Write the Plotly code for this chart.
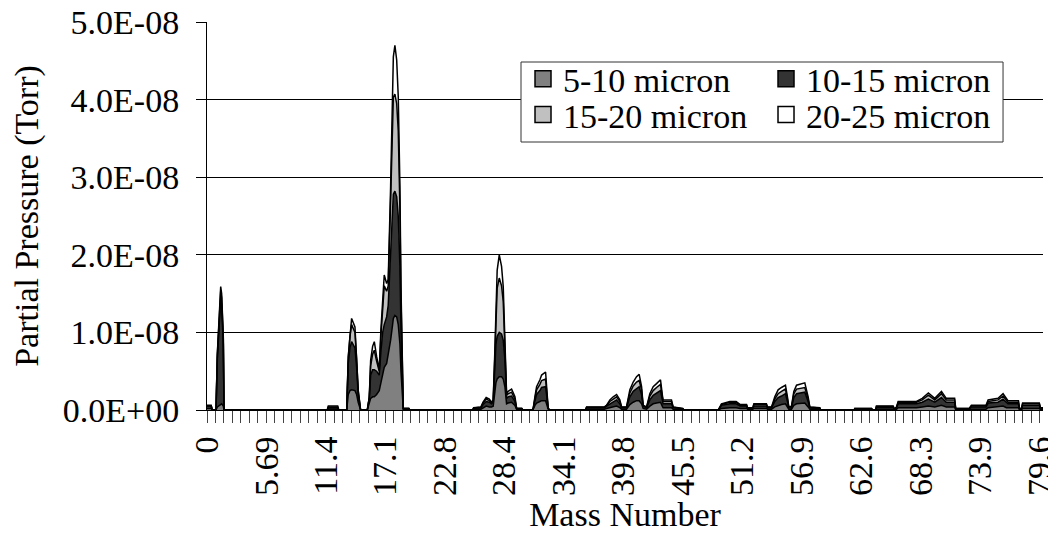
import plotly.graph_objects as go

# Mass number (amu) sample positions
mass = [0.0, 0.4, 0.5, 0.86, 0.99, 1.18, 1.31, 1.40, 1.56, 1.63,
        11.5, 11.6, 12.5, 12.6,
        13.36, 13.51, 13.67, 13.83, 14.15, 14.31, 14.46, 14.69,
        15.33, 15.52, 15.65, 15.84, 16.0, 16.22, 16.47, 16.63, 16.8, 16.95, 17.18, 17.33, 17.56, 17.75, 17.82, 17.97, 18.14, 18.29, 18.45, 18.55, 18.67, 18.77, 19.3, 19.4,
        25.4, 25.5, 26.2, 26.4, 26.7, 27.0, 27.2, 27.37, 27.53, 27.63, 27.75, 27.95, 28.17, 28.33, 28.49, 28.59, 28.65, 28.8, 29.13, 29.45, 29.61, 30.1, 30.2,
        31.1, 31.2, 31.36, 31.52, 31.84, 32.0, 32.38, 32.48, 32.63, 32.8,
        36.2, 36.3, 38.0, 38.2, 38.53, 38.85, 39.17, 39.48, 39.65, 40.12, 40.44, 40.76, 41.08, 41.33, 41.56, 41.71, 42.04, 42.35, 42.67, 42.99, 43.37, 43.57, 43.62, 44.42, 44.58, 45.5, 45.6,
        48.9, 49.04, 49.2, 50.0, 50.6, 51.0, 51.6, 51.7, 52.2, 52.3, 53.5, 53.6, 53.99, 54.3, 54.62, 54.94, 55.32, 55.51, 55.64, 55.9, 56.12, 56.38, 56.86, 57.17, 57.49, 57.65, 58.6, 58.7,
        61.9, 61.95, 63.55, 63.65, 63.95, 64.02, 65.62, 65.75, 65.94, 66.1, 67.53, 67.85, 68.4, 68.99, 69.6, 70.24, 70.7, 71.5, 71.6, 72.9, 73.1, 74.5, 74.7, 75.65, 76.13, 76.45, 76.6, 77.6, 77.7, 77.9, 78.0, 79.6, 79.7, 79.95]

# Partial pressures in units of 1E-08 Torr, one list per particle-size series
p_5_10 = [.02, .02, 0, 0, .04, .06, .08, .08, .05, 0,
          0, .01, .01, 0,
          0, .2, .25, .26, .25, .2, .1, 0,
          0, .1, .15, .17, .17, .2, .25, .35, .45, .55, .6, .7, .9, 1.1, 1.18, 1.22, 1.2, 1.1, .85, .5, .25, .01, .01, 0,
          0, .01, .01, .03, .05, .04, .04, .05, .25, .35, .4, .43, .43, .4, .3, .15, .08, .09, .1, .06, .01, .01, 0,
          0, .01, .06, .09, .11, .12, .12, .08, .01, 0,
          0, .01, .01, .02, .03, .04, .05, .03, .01, .01, .07, .1, .12, .12, .08, .02, .01, .05, .08, .09, .1, .04, .03, .03, .01, .005, 0,
          0, .01, .02, .03, .03, .02, .02, .01, .01, .02, .02, .01, .01, .04, .06, .07, .08, .04, .01, .01, .06, .08, .09, .09, .04, .01, .01, 0,
          0, .005, .005, 0, 0, .01, .01, .003, .01, .03, .03, .03, .04, .05, .04, .06, .04, .04, .005, .005, .01, .01, .03, .04, .05, .03, .03, .03, .005, .005, .02, .02, .005, .005]

p_10_15 = [.03, .03, 0, 0, .62, .98, 1.35, 1.27, .8, 0,
           0, .02, .02, 0,
           0, .4, .55, .62, .55, .35, .1, 0,
           0, .05, .3, .35, .35, .3, .2, .4, .55, .55, .6, .65, 1.2, 1.55, 1.6, 1.6, 1.55, 1.4, 1.0, .55, .25, .01, .01, 0,
           0, .01, .02, .04, .06, .06, .04, .05, .3, .5, .55, .57, .55, .5, .35, .15, .07, .08, .08, .05, .01, .01, 0,
           0, .01, .06, .11, .14, .17, .18, .09, .01, 0,
           0, .02, .02, .03, .05, .07, .08, .05, .02, .02, .1, .14, .16, .18, .12, .03, .02, .08, .11, .13, .15, .07, .05, .05, .02, .01, 0,
           0, .02, .04, .05, .05, .03, .03, .01, .01, .03, .03, .02, .02, .07, .1, .11, .13, .07, .02, .02, .1, .13, .13, .14, .07, .02, .01, 0,
           0, .01, .01, 0, 0, .025, .025, .005, .02, .05, .05, .05, .06, .09, .06, .1, .06, .06, .01, .01, .03, .03, .06, .06, .09, .06, .05, .05, .01, .01, .04, .04, .015, .015]

p_15_20 = [.005, .005, 0, 0, .05, .08, .1, .1, .06, 0,
           0, .01, .01, 0,
           0, .07, .15, .22, .2, .1, .04, 0,
           0, .01, .12, .2, .25, .13, .05, .2, .35, .5, .33, .25, .6, 1.0, 1.25, 1.25, 1.2, 1.1, .75, .4, .17, 0, 0, 0,
           0, .005, .005, .02, .03, .02, .01, .02, .15, .4, .62, .7, .62, .5, .25, .09, .04, .04, .05, .03, 0, 0, 0,
           0, 0, .03, .06, .08, .09, .1, .05, 0, 0,
           0, .005, .005, .005, .03, .03, .04, .03, .005, .005, .05, .07, .08, .08, .06, .005, .005, .05, .06, .07, .08, .04, .03, .03, .005, .003, 0,
           0, .005, .01, .02, .02, .01, .01, .005, .005, .02, .02, .005, .005, .03, .05, .06, .06, .03, .005, .01, .05, .06, .06, .06, .03, .005, .005, 0,
           0, .003, .003, 0, 0, .01, .01, .001, .005, .02, .02, .02, .03, .05, .03, .05, .03, .03, .003, .003, .01, .01, .02, .03, .04, .03, .02, .02, .003, .003, .02, .02, .005, .005]

p_20_25 = [.005, .005, 0, 0, .02, .04, .06, .05, .03, 0,
           0, .01, .01, 0,
           0, .02, .05, .08, .07, .04, .02, 0,
           0, .01, .07, .1, .11, .06, .02, .08, .11, .14, .1, .08, .18, .31, .52, .63, .56, .44, .28, .14, .06, 0, 0, 0,
           0, .005, .005, .01, .02, .02, .01, .01, .07, .17, .23, .3, .25, .19, .09, .04, .02, .03, .04, .03, 0, 0, 0,
           0, 0, .02, .04, .06, .07, .09, .04, 0, 0,
           0, .005, .005, .005, .02, .03, .03, .02, .005, .005, .04, .05, .07, .08, .04, .005, .005, .03, .05, .05, .06, .02, .02, .02, .005, .002, 0,
           0, .005, .01, .01, .01, .01, .01, .005, .005, .01, .01, .005, .005, .03, .05, .05, .05, .03, .005, .01, .03, .05, .06, .06, .03, .005, .005, 0,
           0, .002, .002, 0, 0, .005, .005, .001, .005, .01, .01, .01, .02, .03, .02, .03, .02, .02, .002, .002, .01, .01, .02, .02, .03, .02, .02, .02, .002, .002, .01, .01, .005, .005]

series_names = ["5-10 micron", "10-15 micron", "15-20 micron", "20-25 micron"]
series_colors = ["#808080", "#333333", "#c0c0c0", "#ffffff"]

x_tick_vals = [0, 5.688, 11.375, 17.063, 22.751, 28.439, 34.126, 39.814,
               45.502, 51.189, 56.877, 62.565, 68.253, 73.940, 79.628]
x_tick_text = ["0", "5.69", "11.4", "17.1", "22.8", "28.4", "34.1", "39.8",
               "45.5", "51.2", "56.9", "62.6", "68.3", "73.9", "79.6"]
y_tick_vals = [0, 1e-8, 2e-8, 3e-8, 4e-8, 5e-8]
y_tick_text = ["0.0E+00", "1.0E-08", "2.0E-08", "3.0E-08", "4.0E-08", "5.0E-08"]

series_values = [p_5_10, p_10_15, p_15_20, p_20_25]
for s in series_values:
    assert len(s) == len(mass), (len(s), len(mass))

FONT = "Liberation Serif"
fig = go.Figure()
legends = ["legend", "legend", "legend2", "legend2"]
for name, color, vals in zip(series_names, series_colors, series_values):
    fig.add_trace(go.Scatter(
        x=mass, y=[v * 1e-8 for v in vals], name=name,
        mode="lines", stackgroup="one",
        line=dict(color="black", width=1.5),
        fillcolor=color, legendgroup=name, showlegend=False,
    ))
# square legend keys (Excel-style), linked to the area traces by legendgroup
for name, color, lg in zip(series_names, series_colors, legends):
    fig.add_trace(go.Scatter(
        x=[None], y=[None], name=name, mode="markers", legendgroup=name, legend=lg,
        marker=dict(symbol="square", size=16, color=color, line=dict(color="black", width=1.5)),
    ))

# legend frame (paper coordinates)
fig.add_shape(type="rect", xref="paper", yref="paper",
              x0=0.3756, x1=0.9522, y0=0.6907, y1=0.8969,
              line=dict(color="#333333", width=1), fillcolor="white", layer="above")

leg_common = dict(orientation="h", xanchor="left", yanchor="top",
                  entrywidth=198, bgcolor="rgba(0,0,0,0)", borderwidth=0,
                  font=dict(family=FONT, size=34, color="black"),
                  traceorder="normal", itemsizing="trace")

# the page body adds an 8 px offset, so the figure is drawn 8 px smaller
fig.update_layout(
    width=1048, height=536,
    margin=dict(l=199, r=13, t=14, b=134, autoexpand=False),
    paper_bgcolor="white", plot_bgcolor="white",
    font=dict(family=FONT, size=34, color="black"),
    showlegend=True,
    legend=dict(x=0.378, y=0.9275, **leg_common),
    legend2=dict(x=0.378, y=0.835, **leg_common),
    xaxis=dict(
        range=[0, 79.95], tickmode="array", tickvals=x_tick_vals, ticktext=x_tick_text,
        tickangle=-90, ticks="outside", ticklen=12, tickcolor="#444", tickwidth=1,
        minor=dict(tickmode="linear", tick0=0, dtick=0.8125, ticks="outside",
                   ticklen=12, tickcolor="#444", tickwidth=1, showgrid=False),
        showline=True, linecolor="black", linewidth=1, showgrid=False, zeroline=False,
        ticklabelstandoff=0, ticklabeloverflow="allow", automargin=False,
        title=dict(text="Mass Number", font=dict(family=FONT, size=34), standoff=0),
    ),
    yaxis=dict(
        range=[0, 5e-8], tickmode="array", tickvals=y_tick_vals, ticktext=y_tick_text,
        ticks="outside", ticklen=10, tickcolor="black",
        showline=True, linecolor="black", linewidth=1,
        showgrid=True, gridcolor="black", gridwidth=1, zeroline=False,
        ticklabelstandoff=10, ticklabeloverflow="allow", automargin=False,
        title=dict(text="Partial Pressure (Torr)", font=dict(family=FONT, size=34), standoff=14),
    ),
)

fig.write_html("out.html")
